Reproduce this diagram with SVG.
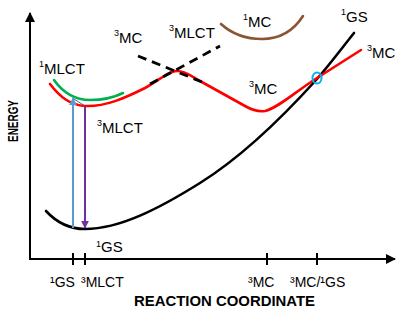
<svg xmlns="http://www.w3.org/2000/svg" width="402" height="310" viewBox="0 0 402 310">
<defs>
<style>
.lbl{font-family:"Liberation Sans",Arial,sans-serif;font-size:15px;fill:#000}
.sup{font-size:9px}
.tick{font-family:"Liberation Sans",Arial,sans-serif;font-size:14px;fill:#000}
.ax{font-family:"Liberation Sans",Arial,sans-serif;font-weight:bold;fill:#000}
.curve{fill:none;stroke-width:2.6;stroke-linecap:round;stroke-linejoin:round}
</style>
<marker id="ah" viewBox="0 0 10 10" refX="9" refY="5" markerWidth="5" markerHeight="5" orient="auto"><path d="M0,0 L10,5 L0,10 z" fill="#000"/></marker>
<marker id="ahb" viewBox="0 0 10 10" refX="9" refY="5" markerWidth="4" markerHeight="4" orient="auto"><path d="M0,0 L10,5 L0,10 z" fill="#5B9BD5"/></marker>
<marker id="ahp" viewBox="0 0 10 10" refX="9" refY="5" markerWidth="4" markerHeight="4" orient="auto"><path d="M0,0 L10,5 L0,10 z" fill="#7030A0"/></marker>
</defs>
<rect width="402" height="310" fill="#fff"/>
<g id="axes">
<line x1="30" y1="259" x2="30" y2="13" stroke="#000" stroke-width="2" marker-end="url(#ah)"/>
<line x1="29" y1="259" x2="395" y2="259" stroke="#000" stroke-width="2" marker-end="url(#ah)"/>
<g stroke="#000" stroke-width="2">
<line x1="73" y1="253" x2="73" y2="265"/>
<line x1="85" y1="253" x2="85" y2="265"/>
<line x1="267" y1="253" x2="267" y2="265"/>
<line x1="317" y1="253" x2="317" y2="265"/>
</g>
<text class="ax" font-size="14" transform="translate(17.5,142) rotate(-90)" textLength="42" lengthAdjust="spacingAndGlyphs">ENERGY</text>
<text class="ax" font-size="15" x="134" y="306" textLength="181" lengthAdjust="spacingAndGlyphs">REACTION COORDINATE</text>
<text class="tick" x="50" y="287">¹GS</text>
<text class="tick" x="81" y="287">³MLCT</text>
<text class="tick" x="248" y="287">³MC</text>
<text class="tick" x="290" y="287">³MC/¹GS</text>
</g>
<g id="connectors">
<path id="gs-curve" class="curve" stroke="#000" d="M46,211 C58,224 70,229 85,229 C120,229 160,208 200,183 C240,158 280,120 317,79 C330,64 342,48 354,33"/>
<path id="mlct3-curve" class="curve" stroke="#FF0000" d="M50,84 C60,97 70,105 85,106 C105,107 125,98 145,88 C160,80 168,71 177,71 C186,71 192,77 200,81 L245,106 C252,110 258,112 265,111 C278,108 295,92 317,78 L361,50"/>
<path id="mlct1-curve" class="curve" stroke="#00B050" d="M54,80 C64,94 76,100 90,100 C104,100 115,97 123,93"/>
<path id="mc1-curve" class="curve" stroke="#8A5530" d="M221,24 C232,34 246,39 262,39 C280,39 294,30 303,16"/>
<g stroke="#000" stroke-width="2.8" stroke-dasharray="9,6" fill="none">
<line x1="138" y1="56" x2="202" y2="82"/>
<line x1="150" y1="84" x2="220" y2="46"/>
</g>
<line x1="73" y1="228" x2="73" y2="98" stroke="#5B9BD5" stroke-width="2" marker-end="url(#ahb)"/>
<line x1="74" y1="99" x2="85" y2="106" stroke="#5A5A8A" stroke-width="1"/>
<line x1="85" y1="107" x2="85" y2="228" stroke="#7030A0" stroke-width="2" marker-end="url(#ahp)"/>
<ellipse cx="317" cy="78" rx="4.5" ry="5.5" fill="none" stroke="#00B0F0" stroke-width="2"/>
</g>
<g id="label-1mlct"><text class="lbl" x="39" y="74"><tspan class="sup" dy="-7">1</tspan><tspan dy="7">MLCT</tspan></text></g>
<g id="label-3mlct-low"><text class="lbl" x="97" y="133"><tspan class="sup" dy="-7">3</tspan><tspan dy="7">MLCT</tspan></text></g>
<g id="label-3mc-top"><text class="lbl" x="114" y="43"><tspan class="sup" dy="-7">3</tspan><tspan dy="7">MC</tspan></text></g>
<g id="label-3mlct-top"><text class="lbl" x="169" y="38"><tspan class="sup" dy="-7">3</tspan><tspan dy="7">MLCT</tspan></text></g>
<g id="label-1mc"><text class="lbl" x="243" y="27"><tspan class="sup" dy="-7">1</tspan><tspan dy="7">MC</tspan></text></g>
<g id="label-1gs-top"><text class="lbl" x="341" y="22"><tspan class="sup" dy="-7">1</tspan><tspan dy="7">GS</tspan></text></g>
<g id="label-3mc-right"><text class="lbl" x="367" y="58"><tspan class="sup" dy="-7">3</tspan><tspan dy="7">MC</tspan></text></g>
<g id="label-3mc-mid"><text class="lbl" x="249" y="94"><tspan class="sup" dy="-7">3</tspan><tspan dy="7">MC</tspan></text></g>
<g id="label-1gs-low"><text class="lbl" x="96" y="252" font-size="11"><tspan class="sup" font-size="7" dy="-5">1</tspan><tspan dy="5">GS</tspan></text></g>
</svg>
